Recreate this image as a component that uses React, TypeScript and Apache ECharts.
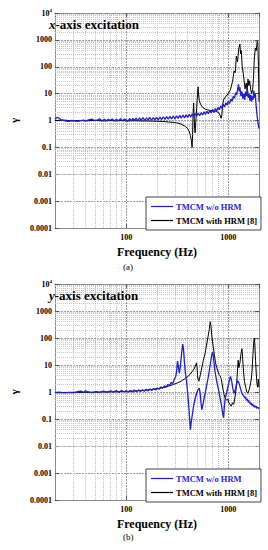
import React, { useEffect, useRef } from "react";
import * as echarts from "echarts";

// ---------- data ----------
const SERIES_NAMES = ["TMCM w/o HRM", "TMCM with HRM [8]"];
const X_TICK_LABELS: Record<string, string> = { "2": "100", "3": "1000" };
const Y_TICK_LABELS = ["0.0001", "0.001", "0.01", "0.1", "1", "10", "100", "1000", "{a|10}{b|4}"];
const PANEL_TITLES = ["{i|x}{n|-axis excitation}", "{i|y}{n|-axis excitation}"];
const PANEL_LETTERS = ["(a)", "(b)"];
const X_MINOR = [30, 40, 50, 60, 70, 80, 90, 200, 300, 400, 500, 600, 700, 800, 900];
const Y_MINOR_MULT = [2, 3, 4, 5, 6, 7, 8, 9];
const Y_DECADES = [-4, -3, -2, -1, 0, 1, 2, 3];

// (a) x-axis excitation
const A_BLUE: [number, number][] = [
  [20, 1.15], [21, 1.3], [22, 1.22], [23, 1.05], [25, 0.98], [27, 0.93], [29, 1.0], [31, 0.96], [33, 0.92],
  [35, 0.97], [38, 1.03], [40, 0.97], [43, 1.06], [46, 1.12], [49, 0.99], [52, 1.04], [55, 1.14], [58, 0.98],
  [61, 1.1], [64, 0.97], [67, 1.12], [70, 1.0], [73, 1.14], [76, 0.96], [80, 1.1], [84, 0.98], [88, 1.16],
  [92, 0.97], [96, 1.14], [100, 1.05], [104, 0.95], [108, 1.18], [112, 0.98], [116, 1.2], [120, 1.0],
  [125, 1.22], [130, 0.98], [135, 1.25], [140, 1.02], [146, 1.28], [152, 1.0], [158, 1.25], [164, 1.04],
  [170, 1.3], [177, 1.02], [184, 1.28], [191, 1.05], [198, 1.32], [206, 1.06], [214, 1.35], [222, 1.08],
  [231, 1.38], [240, 1.1], [249, 1.4], [258, 1.12], [268, 1.42], [278, 1.15], [289, 1.45], [300, 1.15],
  [311, 1.5], [322, 1.2], [334, 1.55], [346, 1.22], [359, 1.6], [372, 1.25], [386, 1.62], [400, 1.3],
  [414, 1.7], [428, 1.35], [443, 1.75], [458, 1.4], [474, 1.8], [490, 1.45], [507, 1.9], [524, 1.5],
  [542, 1.95], [560, 1.6], [579, 2.1], [598, 1.7], [618, 2.2], [638, 1.8], [659, 2.4], [680, 1.9],
  [702, 2.6], [724, 2.0], [747, 2.8], [770, 2.2], [794, 3.1], [818, 2.5], [843, 3.5], [868, 2.8],
  [894, 4.0], [920, 3.2], [947, 4.6], [974, 3.7], [1000, 5.2], [1030, 4.3], [1060, 6.2], [1090, 5.2],
  [1120, 8.0], [1150, 6.8], [1180, 11], [1210, 9], [1240, 16], [1260, 22], [1280, 12], [1300, 17],
  [1330, 8], [1360, 12], [1390, 6.5], [1420, 10], [1450, 6], [1480, 12], [1510, 8], [1540, 14],
  [1570, 7], [1600, 10], [1630, 5.5], [1660, 9], [1690, 5], [1720, 8], [1750, 6], [1780, 13],
  [1810, 7], [1840, 10], [1870, 4], [1900, 2], [1930, 1.2], [1960, 0.8], [2000, 0.5],
];
const A_BLACK: [number, number][] = [
  [20, 1.0], [25, 1.03], [30, 0.97], [35, 1.01], [40, 0.97], [50, 1.01], [60, 0.96], [70, 1.01], [80, 0.97],
  [90, 1.0], [100, 0.97], [120, 0.98], [140, 0.96], [160, 0.96], [180, 0.95], [200, 0.94], [230, 0.92],
  [260, 0.88], [290, 0.85], [320, 0.8], [350, 0.72], [380, 0.6], [400, 0.5], [415, 0.38], [425, 0.28],
  [435, 0.18], [442, 0.1], [447, 0.3], [452, 2], [458, 4.5], [463, 1.5], [468, 0.5], [473, 0.35],
  [480, 0.8], [490, 3], [500, 10], [506, 18], [512, 9], [520, 5.5], [535, 4], [560, 3.1], [600, 2.6],
  [650, 2.4], [700, 2.3], [750, 2.2], [800, 2.0], [830, 1.6], [850, 1.2], [865, 1.6], [880, 4],
  [900, 6], [950, 8], [1000, 10], [1050, 14], [1100, 28], [1140, 70], [1170, 60], [1200, 250],
  [1230, 150], [1270, 500], [1300, 700], [1320, 300], [1340, 400], [1370, 100], [1400, 60],
  [1430, 30], [1460, 15], [1500, 25], [1530, 12], [1560, 35], [1590, 20], [1620, 30], [1660, 14],
  [1700, 10], [1730, 14], [1760, 30], [1800, 200], [1840, 500], [1880, 400], [1920, 900], [1950, 800],
  [1975, 100], [2000, 5],
];

// (b) y-axis excitation
const B_BLUE: [number, number][] = [
  [20, 0.95], [22, 0.98], [25, 0.92], [28, 0.97], [30, 0.93], [33, 1.02], [36, 1.07], [38, 0.97],
  [40, 1.1], [43, 1.0], [46, 0.94], [50, 1.04], [55, 0.96], [60, 1.07], [65, 0.97], [70, 1.1],
  [75, 0.99], [80, 1.12], [85, 0.97], [90, 1.14], [95, 1.0], [100, 1.12], [105, 0.98], [110, 1.15],
  [115, 1.0], [120, 1.18], [126, 1.02], [132, 1.2], [138, 1.04], [144, 1.22], [150, 1.06],
  [157, 1.26], [164, 1.1], [171, 1.3], [178, 1.14], [186, 1.35], [194, 1.18], [202, 1.42],
  [210, 1.25], [219, 1.55], [228, 1.38], [237, 1.7], [246, 1.5], [256, 1.9], [266, 1.7], [276, 2.3],
  [286, 2.0], [296, 3.0], [305, 3.6], [312, 6], [318, 14], [325, 8], [332, 5], [340, 10], [350, 30],
  [358, 60], [365, 35], [372, 12], [380, 5], [390, 2.5], [400, 0.9], [410, 0.3], [418, 0.1],
  [425, 0.04], [432, 0.07], [445, 0.15], [460, 0.35], [475, 0.6], [490, 0.9], [505, 1.2], [520, 1.4],
  [530, 0.9], [540, 0.4], [550, 0.22], [565, 0.35], [585, 0.7], [610, 1.5], [640, 4], [665, 10],
  [690, 25], [705, 30], [720, 15], [740, 6], [770, 2.5], [800, 1.3], [830, 0.6], [860, 0.3],
  [885, 0.15], [900, 0.11], [915, 0.3], [935, 0.6], [960, 0.9], [990, 1.5], [1020, 2.5], [1050, 3.8],
  [1080, 2.5], [1110, 1.3], [1140, 0.9], [1170, 1.2], [1200, 1.8], [1230, 2.6], [1260, 2.4],
  [1290, 1.8], [1320, 1.3], [1360, 0.9], [1400, 0.75], [1430, 0.68], [1450, 0.6], [1480, 0.65],
  [1500, 0.5], [1530, 0.56], [1550, 0.45], [1580, 0.5], [1600, 0.4], [1630, 0.44], [1650, 0.35],
  [1680, 0.39], [1700, 0.32], [1730, 0.36], [1750, 0.3], [1780, 0.33], [1800, 0.27], [1830, 0.31],
  [1850, 0.27], [1880, 0.3], [1900, 0.25], [1950, 0.27], [2000, 0.24],
];
const B_BLACK: [number, number][] = [
  [20, 0.95], [30, 0.97], [40, 0.97], [50, 0.98], [60, 1.0], [80, 1.02], [100, 1.05], [120, 1.08],
  [150, 1.15], [180, 1.25], [200, 1.32], [230, 1.45], [260, 1.65], [290, 1.9], [320, 2.2], [350, 2.6],
  [380, 3.2], [410, 4], [440, 5.5], [460, 7], [475, 9], [488, 12], [495, 8], [500, 4], [505, 3],
  [515, 2.5], [530, 4], [550, 8], [570, 15], [590, 25], [610, 50], [630, 100], [650, 200], [665, 400],
  [675, 300], [690, 120], [710, 50], [730, 25], [750, 12], [770, 8], [790, 6], [810, 4.5], [830, 4],
  [850, 3.2], [870, 2], [890, 1.2], [910, 0.8], [930, 0.6], [960, 0.5], [990, 0.55], [1010, 0.4],
  [1040, 0.35], [1070, 0.3], [1100, 0.4], [1130, 0.35], [1160, 0.6], [1190, 1.2], [1210, 2.3],
  [1230, 6], [1250, 15], [1270, 8], [1300, 12], [1330, 25], [1360, 40], [1380, 20], [1410, 6],
  [1440, 2.5], [1480, 1.5], [1520, 1.0], [1560, 0.9], [1600, 1.2], [1640, 1.8], [1680, 3], [1710, 6],
  [1740, 20], [1770, 60], [1800, 100], [1820, 60], [1850, 15], [1880, 5], [1910, 2], [1940, 1.5],
  [1970, 3], [2000, 1.5],
];

const PANELS = [
  { blue: A_BLUE, black: A_BLACK },
  { blue: B_BLUE, black: B_BLACK },
];

// ---------- styling ----------
const FONT = "'Liberation Serif', 'Times New Roman', serif";
const BLUE = "#1f1fd0";
const GRIDS = [
  { top: 13, height: 215 },
  { top: 284, height: 216 },
];

function isDecade(v: number) {
  const l = Math.log10(v);
  return Math.abs(l - Math.round(l)) < 1e-6;
}

function buildOption() {
  const grid: any[] = [];
  const xAxis: any[] = [];
  const yAxis: any[] = [];
  const series: any[] = [];
  const legend: any[] = [];
  const title: any[] = [];
  const graphic: any[] = [];

  PANELS.forEach((p, i) => {
    grid.push({ left: 45, width: 214, top: GRIDS[i].top, height: GRIDS[i].height, containLabel: false });
    const xCommon = {
      type: "log",
      logBase: 10,
      min: 20,
      max: 2000,
      gridIndex: i,
      axisLine: { show: true, lineStyle: { color: "#8a8a8a", width: 1 } },
      axisTick: { show: true, inside: true, length: 4, lineStyle: { color: "#555" } },
    };
    xAxis.push({
      ...xCommon,
      position: "bottom",
      name: "Frequency (Hz)",
      nameLocation: "middle",
      nameGap: 18,
      nameTextStyle: { fontFamily: FONT, fontWeight: "bold", fontSize: 12, color: "#000" },
      axisLabel: {
        show: true,
        margin: 5,
        fontFamily: FONT,
        fontWeight: "bold",
        fontSize: 8,
        color: "#000",
        showMinLabel: false,
        showMaxLabel: false,
        formatter: (v: number) => (isDecade(v) ? X_TICK_LABELS[String(Math.round(Math.log10(v)))] || "" : ""),
      },
      splitLine: { show: true, lineStyle: { color: "#9a9a9a", width: 1, type: [2, 1] } },
    });
    xAxis.push({
      ...xCommon,
      position: "top",
      axisLabel: { show: false },
      splitLine: { show: false },
    });
    const yCommon = {
      type: "log",
      logBase: 10,
      min: 0.0001,
      max: 10000,
      splitNumber: 8,
      gridIndex: i,
      axisLine: { show: true, lineStyle: { color: "#8a8a8a", width: 1 } },
      axisTick: { show: true, inside: true, length: 4, lineStyle: { color: "#555" } },
    };
    yAxis.push({
      ...yCommon,
      position: "left",
      name: "γ",
      nameLocation: "middle",
      nameGap: 35,
      nameRotate: 90,
      nameTextStyle: { fontFamily: FONT, fontWeight: "bold", fontSize: 11, color: "#000" },
      axisLabel: {
        show: true,
        margin: 3,
        fontFamily: FONT,
        fontWeight: "bold",
        fontSize: 8,
        color: "#000",
        formatter: (v: number) => Y_TICK_LABELS[Math.round(Math.log10(v)) + 4] || "",
        rich: {
          a: { fontFamily: FONT, fontWeight: "bold", fontSize: 8, color: "#000" },
          b: { fontFamily: FONT, fontWeight: "bold", fontSize: 5, color: "#000", verticalAlign: "top", padding: [0, 0, 5, 0] },
        },
      },
      splitLine: { show: true, lineStyle: { color: "#9a9a9a", width: 1, type: [2, 1] } },
    });
    yAxis.push({
      ...yCommon,
      position: "right",
      axisLabel: { show: false },
      splitLine: { show: false },
    });

    const minorY: any[] = [];
    Y_DECADES.forEach((d) => Y_MINOR_MULT.forEach((m) => minorY.push({ yAxis: m * Math.pow(10, d) })));
    const minorX = X_MINOR.map((f) => ({ xAxis: f }));

    series.push({
      name: "minor-grid-" + i,
      type: "line",
      xAxisIndex: i * 2,
      yAxisIndex: i * 2,
      data: [],
      z: 1,
      silent: true,
      markLine: {
        silent: true,
        z: 1,
        symbol: ["none", "none"],
        label: { show: false },
        emphasis: { disabled: true },
        lineStyle: { color: "#c4c4c4", width: 1, type: [1, 1] },
        data: [...minorX, ...minorY],
      },
    });
    series.push({
      name: SERIES_NAMES[1],
      type: "line",
      xAxisIndex: i * 2,
      yAxisIndex: i * 2,
      data: p.black,
      symbol: "none",
      z: 3,
      lineStyle: { color: "#000", width: 1 },
      itemStyle: { color: "#000" },
    });
    series.push({
      name: SERIES_NAMES[0],
      type: "line",
      xAxisIndex: i * 2,
      yAxisIndex: i * 2,
      data: p.blue,
      symbol: "none",
      z: 4,
      lineStyle: { color: BLUE, width: 1.3 },
      itemStyle: { color: BLUE },
    });

    legend.push({
      left: 146,
      top: i === 0 ? 197 : 469,
      orient: "vertical",
      icon: "rect",
      itemWidth: 22,
      itemHeight: 1.2,
      itemGap: 5,
      padding: [5, 4, 5, 5],
      borderColor: "#444",
      borderWidth: 1,
      backgroundColor: "#fff",
      selectedMode: false,
      data: [
        { name: SERIES_NAMES[0], textStyle: { color: BLUE } },
        { name: SERIES_NAMES[1], textStyle: { color: "#000" } },
      ],
      textStyle: { fontFamily: FONT, fontWeight: "bold", fontSize: 8.5, padding: [0, 0, 0, -2] },
    });

    title.push({
      text: PANEL_TITLES[i],
      left: 49,
      top: i === 0 ? 18 : 289,
      padding: 0,
      textStyle: {
        fontFamily: FONT,
        fontSize: 13,
        fontWeight: "bold",
        color: "#000",
        rich: {
          i: { fontFamily: FONT, fontSize: 13, fontWeight: "bold", fontStyle: "italic", color: "#000" },
          n: { fontFamily: FONT, fontSize: 13, fontWeight: "bold", color: "#000" },
        },
      },
    });

    graphic.push({
      type: "text",
      left: 123,
      top: i === 0 ? 262 : 532,
      style: { text: PANEL_LETTERS[i], font: `9px ${FONT}`, fill: "#000" },
    });
  });

  return {
    animation: false,
    backgroundColor: "#fff",
    grid,
    xAxis,
    yAxis,
    series,
    legend,
    title,
    graphic,
  };
}

export default function App() {
  const ref = useRef<HTMLDivElement>(null);
  useEffect(() => {
    if (!ref.current) return;
    const chart = echarts.init(ref.current, undefined, { renderer: "svg" });
    chart.setOption(buildOption() as any);
    return () => chart.dispose();
  }, []);
  return (
    <div
      ref={ref}
      style={{ position: "absolute", left: 0, top: 0, width: 268, height: 550, background: "#fff" }}
    />
  );
}
